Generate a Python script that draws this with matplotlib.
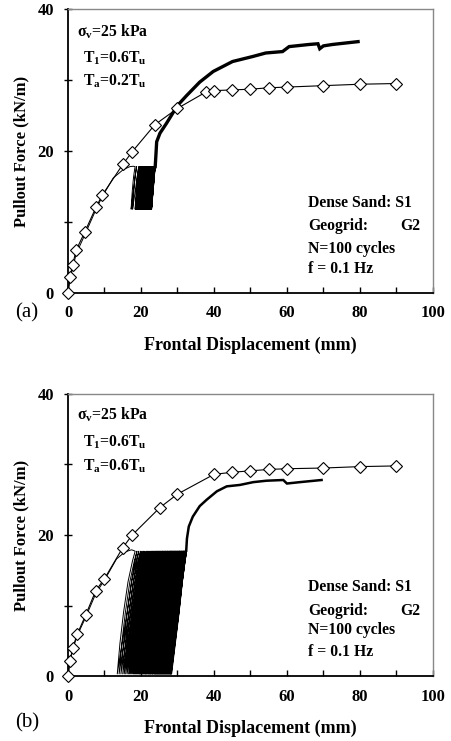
"""Pullout force vs frontal displacement, cyclic vs monotonic (two panels)."""
import matplotlib
matplotlib.use('Agg')
import matplotlib.pyplot as plt
from matplotlib.ticker import MultipleLocator

plt.rcParams.update({
    'font.family': ['Liberation Serif', 'DejaVu Serif'],
    'font.weight': 'bold',
    'mathtext.fontset': 'custom',
    'mathtext.rm': 'Liberation Serif:bold',
    'mathtext.it': 'Liberation Serif:italic:bold',
    'mathtext.bf': 'Liberation Serif:bold',
})

# ---- panel (a): monotonic reference test (diamonds)
mono_a_x = [0, 0.5, 1.3, 2.2, 4.6, 7.7, 9.4, 15.0, 17.6, 23.8, 30.0, 37.8, 40.0,
            45.0, 50.0, 55.0, 60.0, 70.0, 80.0, 90.0]
mono_a_y = [0, 2.2, 4.0, 6.0, 8.6, 12.1, 13.8, 18.1, 19.9, 23.7, 26.0, 28.3, 28.5,
            28.6, 28.7, 28.9, 29.0, 29.2, 29.4, 29.5]

# panel (a): cyclic test, loading up to T1 before the cycles
pre_a_x = [0, 0.5, 1.3, 2.3, 4.7, 7.7, 9.4, 12.4, 15.2, 17.0, 17.9]
pre_a_y = [0, 1.8, 3.6, 5.6, 8.3, 11.8, 13.6, 16.2, 17.4, 17.8, 17.85]
# displacement at the top / bottom of each of the 100 load cycles
cyc_a_top = [18.4, 18.8, 19.4, 19.6, 19.7, 19.8, 19.9, 20.0, 20.1, 20.2,
             20.3, 20.35, 20.4, 20.5, 20.55, 20.6, 20.7, 20.75, 20.8, 20.9,
             20.95, 21.0, 21.05, 21.1, 21.15, 21.2, 21.25, 21.3, 21.35, 21.4,
             21.45, 21.5, 21.55, 21.6, 21.65, 21.7, 21.75, 21.8, 21.85, 21.9,
             21.95, 22.0, 22.05, 22.1, 22.15, 22.2, 22.25, 22.3, 22.35, 22.4,
             22.45, 22.5, 22.52, 22.55, 22.6, 22.62, 22.65, 22.7, 22.72, 22.75,
             22.8, 22.82, 22.85, 22.9, 22.92, 22.95, 23.0, 23.02, 23.05, 23.1,
             23.12, 23.15, 23.2, 23.22, 23.25, 23.3, 23.32, 23.35, 23.4, 23.42,
             23.45, 23.5, 23.52, 23.55, 23.58, 23.6, 23.62, 23.65, 23.67, 23.7,
             23.72, 23.74, 23.76, 23.78, 23.8, 23.82, 23.84, 23.86, 23.88, 23.9]
cyc_a_bot = [17.3, 17.7, 18.4, 18.6, 18.7, 18.8, 18.9, 19.0, 19.1, 19.2,
             19.3, 19.35, 19.4, 19.5, 19.55, 19.6, 19.7, 19.75, 19.8, 19.9,
             19.95, 20.0, 20.05, 20.1, 20.15, 20.2, 20.25, 20.3, 20.35, 20.4,
             20.45, 20.5, 20.55, 20.6, 20.65, 20.7, 20.75, 20.8, 20.85, 20.9,
             20.95, 21.0, 21.05, 21.1, 21.15, 21.2, 21.25, 21.3, 21.35, 21.4,
             21.45, 21.5, 21.52, 21.55, 21.6, 21.62, 21.65, 21.7, 21.72, 21.75,
             21.8, 21.82, 21.85, 21.9, 21.92, 21.95, 22.0, 22.02, 22.05, 22.1,
             22.12, 22.15, 22.2, 22.22, 22.25, 22.3, 22.32, 22.35, 22.4, 22.42,
             22.45, 22.5, 22.52, 22.55, 22.58, 22.6, 22.62, 22.65, 22.67, 22.7,
             22.72, 22.74, 22.76, 22.78, 22.8, 22.82, 22.84, 22.86, 22.88, 22.9]
cyc_a_hi, cyc_a_lo = 17.8, 11.8
# post-cyclic pullout
post_a_x = [23.9, 24.1, 24.3, 25.2, 27.0, 30.0, 32.5, 36.1, 39.8, 45.1, 50.6,
            54.2, 58.8, 60.6, 66.1, 68.5, 69.0, 70.0, 72.5, 76.0, 79.5]
post_a_y = [17.8, 19.5, 21.3, 22.5, 23.9, 26.4, 27.8, 29.7, 31.2, 32.6, 33.3,
            33.8, 34.0, 34.7, 35.0, 35.1, 34.4, 34.8, 35.0, 35.2, 35.4]

# ---- panel (b)
mono_b_x = [0, 0.5, 1.3, 2.5, 4.8, 7.6, 10.0, 15.0, 17.6, 25.2, 30.0, 40.0,
            45.0, 50.0, 55.0, 60.0, 70.0, 80.0, 90.0]
mono_b_y = [0, 2.1, 4.0, 5.9, 8.6, 12.1, 13.8, 18.2, 20.0, 23.9, 25.8, 28.6,
            28.9, 29.1, 29.3, 29.4, 29.5, 29.7, 29.8]

pre_b_x = [0, 0.5, 1.3, 2.5, 4.9, 7.7, 10.0, 13.3, 15.6, 17.4, 18.0]
pre_b_y = [0, 1.9, 3.8, 5.7, 8.4, 11.8, 13.6, 16.6, 17.6, 17.9, 17.8]
cyc_b_top = [18.4, 18.9, 19.4, 19.9, 20.3, 20.7, 21.1, 21.5, 21.8, 22.1,
             22.4, 22.7, 22.9, 23.1, 23.3, 23.5, 23.7, 23.9, 24.1, 24.3,
             24.4, 24.6, 24.7, 24.9, 25.0, 25.2, 25.3, 25.5, 25.6, 25.8,
             25.9, 26.0, 26.2, 26.3, 26.4, 26.6, 26.7, 26.8, 26.9, 27.1,
             27.2, 27.3, 27.4, 27.5, 27.7, 27.8, 27.9, 28.0, 28.1, 28.2,
             28.3, 28.4, 28.5, 28.6, 28.7, 28.8, 28.9, 29.0, 29.1, 29.2,
             29.3, 29.4, 29.5, 29.6, 29.7, 29.8, 29.9, 30.0, 30.1, 30.2,
             30.3, 30.4, 30.5, 30.6, 30.6, 30.7, 30.8, 30.9, 31.0, 31.1,
             31.2, 31.2, 31.3, 31.4, 31.5, 31.6, 31.6, 31.7, 31.8, 31.9,
             31.9, 32.0, 32.1, 32.1, 32.2, 32.3, 32.3, 32.4, 32.5, 32.5]
cyc_b_bot = [13.5, 14.0, 14.5, 15.0, 15.4, 15.8, 16.2, 16.6, 16.9, 17.2,
             17.5, 17.8, 18.0, 18.2, 18.4, 18.6, 18.8, 19.0, 19.2, 19.4,
             19.6, 19.7, 19.9, 20.0, 20.2, 20.3, 20.5, 20.6, 20.8, 20.9,
             21.1, 21.2, 21.3, 21.5, 21.6, 21.7, 21.9, 22.0, 22.1, 22.3,
             22.4, 22.5, 22.6, 22.7, 22.9, 23.0, 23.1, 23.2, 23.3, 23.4,
             23.6, 23.7, 23.8, 23.9, 24.0, 24.1, 24.2, 24.3, 24.4, 24.5,
             24.6, 24.7, 24.8, 24.9, 25.0, 25.1, 25.2, 25.3, 25.4, 25.5,
             25.6, 25.7, 25.8, 25.9, 26.0, 26.1, 26.2, 26.3, 26.4, 26.5,
             26.6, 26.7, 26.8, 26.9, 27.0, 27.1, 27.2, 27.3, 27.4, 27.5,
             27.6, 27.7, 27.8, 27.9, 28.0, 28.1, 28.2, 28.2, 28.3, 28.4]
cyc_b_hi, cyc_b_lo = 17.7, 0.3
post_b_x = [32.4, 32.6, 33.1, 34.2, 36.1, 38.0, 40.8, 43.5, 47.1, 50.8, 54.4,
            59.0, 60.0, 63.6, 69.5]
post_b_y = [17.8, 19.5, 21.2, 22.6, 24.1, 25.0, 26.2, 26.9, 27.1, 27.5, 27.7,
            27.8, 27.3, 27.5, 27.8]

# shape of one unload / reload branch (fraction of span, bottom -> top)
LOOP_FY = [0.0, 0.25, 0.5, 0.75, 0.92, 1.0]
UNLOAD_FX = [0.0, 0.15, 0.35, 0.6, 0.85, 1.0]
RELOAD_FX = [0.0, 0.25, 0.5, 0.72, 0.9, 1.0]

notes_left = [r'σ$_\mathrm{v}$=25 kPa', r'T$_\mathrm{1}$=0.6T$_\mathrm{u}$']
notes_ta = [r'T$_\mathrm{a}$=0.2T$_\mathrm{u}$', r'T$_\mathrm{a}$=0.6T$_\mathrm{u}$']
notes_right = ['Dense Sand: S1', 'Geogrid:', 'N=100 cycles', 'f = 0.1 Hz']


def cyclic_curve(pre_x, pre_y, tops, bots, y_hi, y_lo):
    xs, ys = list(pre_x), list(pre_y)
    for i in range(len(tops)):
        for fx, fy in zip(UNLOAD_FX[::-1], LOOP_FY[::-1]):
            xs.append(bots[i] + fx * (tops[i] - bots[i]))
            ys.append(y_lo + fy * (y_hi - y_lo))
        nxt = tops[i + 1] if i + 1 < len(tops) else tops[i]
        for fx, fy in zip(RELOAD_FX, LOOP_FY):
            xs.append(bots[i] + fx * (nxt - bots[i]))
            ys.append(y_lo + fy * (y_hi - y_lo))
    return xs, ys


def draw_panel(ax, mono_x, mono_y, pre_x, pre_y, tops, bots, hi, lo,
               post_x, post_y, post_lw, ta_text, text_y):
    cx, cy = cyclic_curve(pre_x, pre_y, tops, bots, hi, lo)
    ax.plot(cx, cy, color='black', lw=0.7, zorder=2)
    ax.plot(post_x, post_y, color='black', lw=post_lw, zorder=2,
            solid_joinstyle='miter')
    ax.plot(mono_x, mono_y, color='black', lw=0.8, marker='D', ms=6,
            mfc='white', mec='black', mew=0.8, zorder=3, clip_on=False)

    ax.set_xlim(0, 100)
    ax.set_ylim(0, 40)
    ax.xaxis.set_major_locator(MultipleLocator(20))
    ax.xaxis.set_minor_locator(MultipleLocator(10))
    ax.yaxis.set_major_locator(MultipleLocator(20))
    ax.yaxis.set_minor_locator(MultipleLocator(10))
    ax.tick_params(axis='x', which='both', direction='in', length=4,
                   width=1, labelsize=12, pad=9)
    ax.tick_params(axis='y', which='both', direction='inout', length=6,
                   width=1, labelsize=12, pad=7)
    for lab in ax.get_xticklabels() + ax.get_yticklabels():
        lab.set_fontweight('bold')
    for s in ['left', 'bottom']:
        ax.spines[s].set_linewidth(1.3)
    for s in ['top', 'right']:
        ax.spines[s].set_color('#888888')
        ax.spines[s].set_linewidth(1.0)

    ax.set_xlabel('Frontal Displacement (mm)', fontsize=13, fontweight='bold',
                  labelpad=11)
    ax.set_ylabel('Pullout Force (kN/m)', fontsize=12, fontweight='bold',
                  labelpad=6)

    ax.text(2.5, text_y[0], notes_left[0], fontsize=11.3, va='baseline')
    ax.text(4.1, text_y[1], notes_left[1], fontsize=11.3, va='baseline')
    ax.text(4.1, text_y[2], ta_text, fontsize=11.3, va='baseline')
    for s, yy in zip(notes_right, text_y[3:]):
        ax.text(65.8, yy, s, fontsize=11.3, va='baseline')
    ax.text(96.6, text_y[4], 'G2', fontsize=11.3, va='baseline', ha='right')


fig = plt.figure(figsize=(4.51, 7.41), dpi=100)
ax_a = fig.add_axes([0.1508, 0.6046, 0.809, 0.3833])
ax_b = fig.add_axes([0.1508, 0.0877, 0.809, 0.3806])

draw_panel(ax_a, mono_a_x, mono_a_y, pre_a_x, pre_a_y, cyc_a_top, cyc_a_bot,
           cyc_a_hi, cyc_a_lo, post_a_x, post_a_y, 2.4, notes_ta[0],
           [36.1, 32.5, 29.2, 12.15, 8.9, 5.7, 2.8])
draw_panel(ax_b, mono_b_x, mono_b_y, pre_b_x, pre_b_y, cyc_b_top, cyc_b_bot,
           cyc_b_hi, cyc_b_lo, post_b_x, post_b_y, 1.8, notes_ta[1],
           [36.3, 32.6, 29.2, 12.0, 8.7, 5.9, 2.8])

fig.text(0.06, 0.5776, '(a)', fontsize=15, fontweight='normal',
         ha='center', va='center')
fig.text(0.06, 0.0247, '(b)', fontsize=15, fontweight='normal',
         ha='center', va='center')

fig.savefig('out.png', dpi=100)
